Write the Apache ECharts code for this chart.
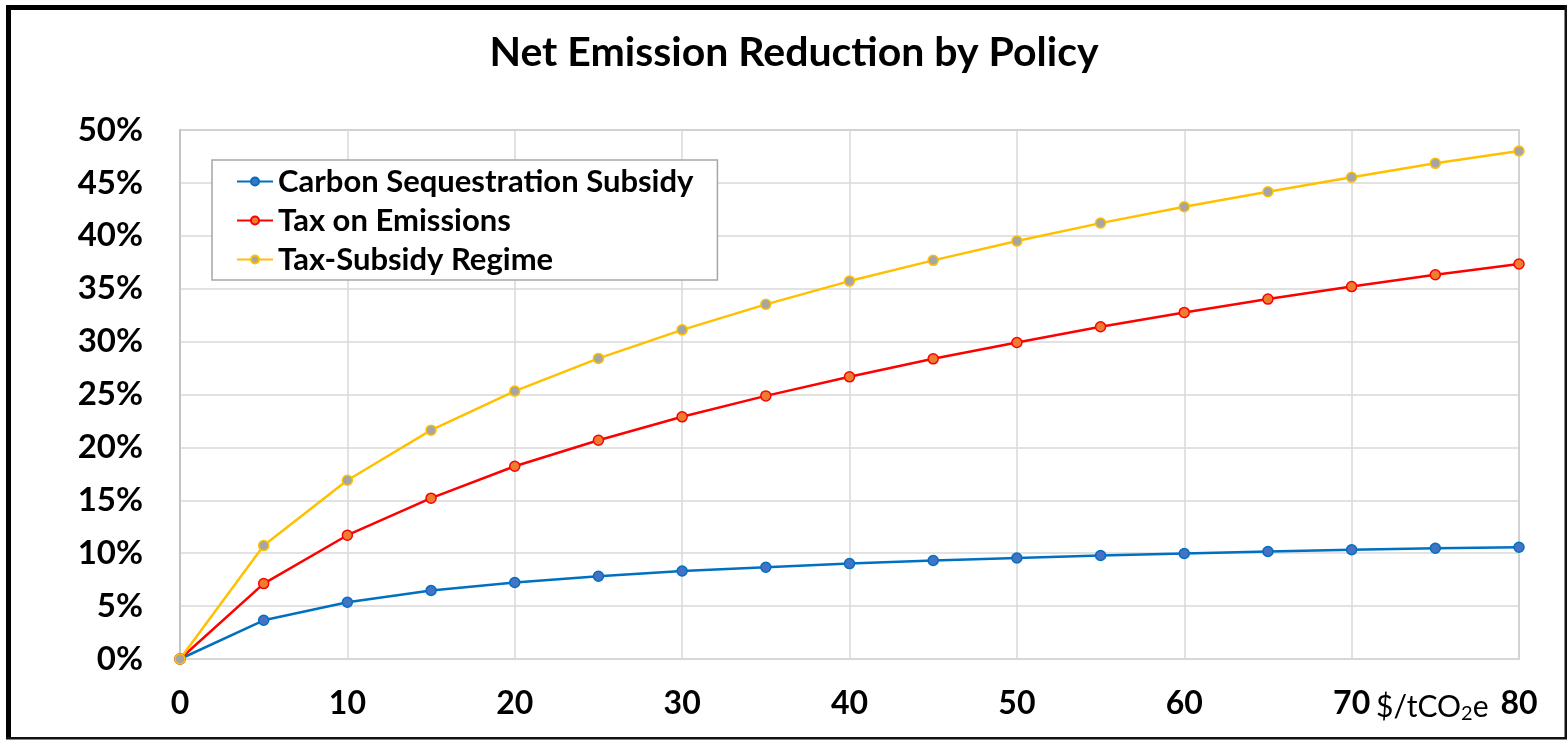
<!DOCTYPE html>
<html>
<head>
<meta charset="utf-8">
<title>Net Emission Reduction by Policy</title>
<script src="https://cdn.jsdelivr.net/npm/echarts@6/dist/echarts.min.js"></script>
<style>
  html, body { margin: 0; padding: 0; background: #fff; }
  #chart { width: 1568px; height: 741px; }
</style>
</head>
<body>
<div id="chart"></div>
<script>
// Carbon price levels ($/tCO2e)
const prices = [0, 5, 10, 15, 20, 25, 30, 35, 40, 45, 50, 55, 60, 65, 70, 75, 80];

// Net emission reduction (%) for each policy
const sequestrationSubsidy = [0, 3.66, 5.36, 6.47, 7.23, 7.82, 8.32, 8.67, 9.02, 9.31, 9.55, 9.78, 9.97, 10.16, 10.33, 10.47, 10.56];
const emissionsTax = [0, 7.13, 11.70, 15.20, 18.22, 20.68, 22.89, 24.87, 26.67, 28.37, 29.92, 31.40, 32.76, 34.02, 35.20, 36.32, 37.33];
const taxSubsidyRegime = [0, 10.72, 16.90, 21.63, 25.32, 28.41, 31.11, 33.52, 35.72, 37.68, 39.50, 41.20, 42.75, 44.16, 45.53, 46.85, 48.01];

const seriesNames = ['Carbon Sequestration Subsidy', 'Tax on Emissions', 'Tax-Subsidy Regime'];

const FONT = 'Lato';

function pairs(values) {
  return prices.map((p, i) => [p, values[i]]);
}

function lineSeries(name, values, lineColor, fillColor) {
  return {
    name: name,
    type: 'line',
    data: pairs(values),
    symbol: 'circle',
    symbolSize: 10,
    showSymbol: true,
    lineStyle: { color: lineColor, width: 2.5 },
    itemStyle: { color: fillColor, borderColor: lineColor, borderWidth: 1.5 },
    emphasis: { disabled: true },
    z: 3
  };
}

const chart = echarts.init(document.getElementById('chart'), null, { renderer: 'canvas' });

chart.setOption({
  animation: false,
  backgroundColor: '#ffffff',
  textStyle: { fontFamily: FONT },
  title: {
    text: 'Net Emission Reduction by Policy',
    left: 789,
    textAlign: 'center',
    top: 27,
    textStyle: { fontFamily: FONT, fontSize: 41, fontWeight: 'bold', color: '#000' }
  },
  grid: {
    left: 180,
    right: 49,
    top: 130,
    bottom: 82,
    show: true,
    borderColor: '#ABABAB',
    borderWidth: 1.5,
    backgroundColor: 'transparent'
  },
  legend: {
    left: 212,
    top: 160,
    orient: 'vertical',
    data: seriesNames,
    backgroundColor: '#ffffff',
    borderColor: '#A6A6A6',
    borderWidth: 1.5,
    padding: [6, 24, 5, 24],
    itemWidth: 36,
    itemHeight: 10,
    itemGap: 8,
    selectedMode: false,
    textStyle: { fontFamily: FONT, fontSize: 31, fontWeight: 'bold', color: '#000', lineHeight: 29 }
  },
  xAxis: {
    type: 'value',
    min: 0,
    max: 80,
    interval: 10,
    name: '$/tCO{sub|2}e',
    nameLocation: 'end',
    nameGap: -89,
    nameTextStyle: {
      fontFamily: FONT,
      fontSize: 30,
      color: '#000',
      align: 'center',
      verticalAlign: 'top',
      padding: [31, 0, 0, 0],
      rich: {
        sub: { fontFamily: FONT, fontSize: 20, color: '#000', verticalAlign: 'bottom', padding: [14, 0, 0, 0] }
      }
    },
    axisLine: { show: true, lineStyle: { color: '#D9D9D9', width: 1.5 } },
    axisTick: { show: false },
    axisLabel: { margin: 29, fontFamily: FONT, fontSize: 32, fontWeight: 'bold', color: '#000' },
    splitLine: { show: true, lineStyle: { color: '#D9D9D9', width: 1.5 } }
  },
  yAxis: {
    type: 'value',
    min: 0,
    max: 50,
    interval: 5,
    axisLine: { show: true, lineStyle: { color: '#BFBFBF', width: 1.5 } },
    axisTick: { show: false },
    axisLabel: { margin: 37, formatter: '{value}%', fontFamily: FONT, fontSize: 33, fontWeight: 'bold', color: '#000' },
    splitLine: { show: true, lineStyle: { color: '#D9D9D9', width: 1.5 } }
  },
  series: [
    lineSeries(seriesNames[0], sequestrationSubsidy, '#0070C0', '#4472C4'),
    lineSeries(seriesNames[1], emissionsTax, '#FF0000', '#ED7D31'),
    lineSeries(seriesNames[2], taxSubsidyRegime, '#FFC000', '#A5A5A5')
  ],
  graphic: [
    // chart frame: heavy top/left edges, thin right/bottom edges
    { type: 'rect', shape: { x: 6, y: 5, width: 5, height: 734 }, style: { fill: '#000' }, silent: true },
    { type: 'rect', shape: { x: 6, y: 5, width: 1561, height: 5 }, style: { fill: '#000' }, silent: true },
    { type: 'rect', shape: { x: 1564.5, y: 5, width: 2.5, height: 734 }, style: { fill: '#111' }, silent: true },
    { type: 'rect', shape: { x: 6, y: 737, width: 1561, height: 2.5 }, style: { fill: '#111' }, silent: true }
  ]
});
</script>
</body>
</html>
